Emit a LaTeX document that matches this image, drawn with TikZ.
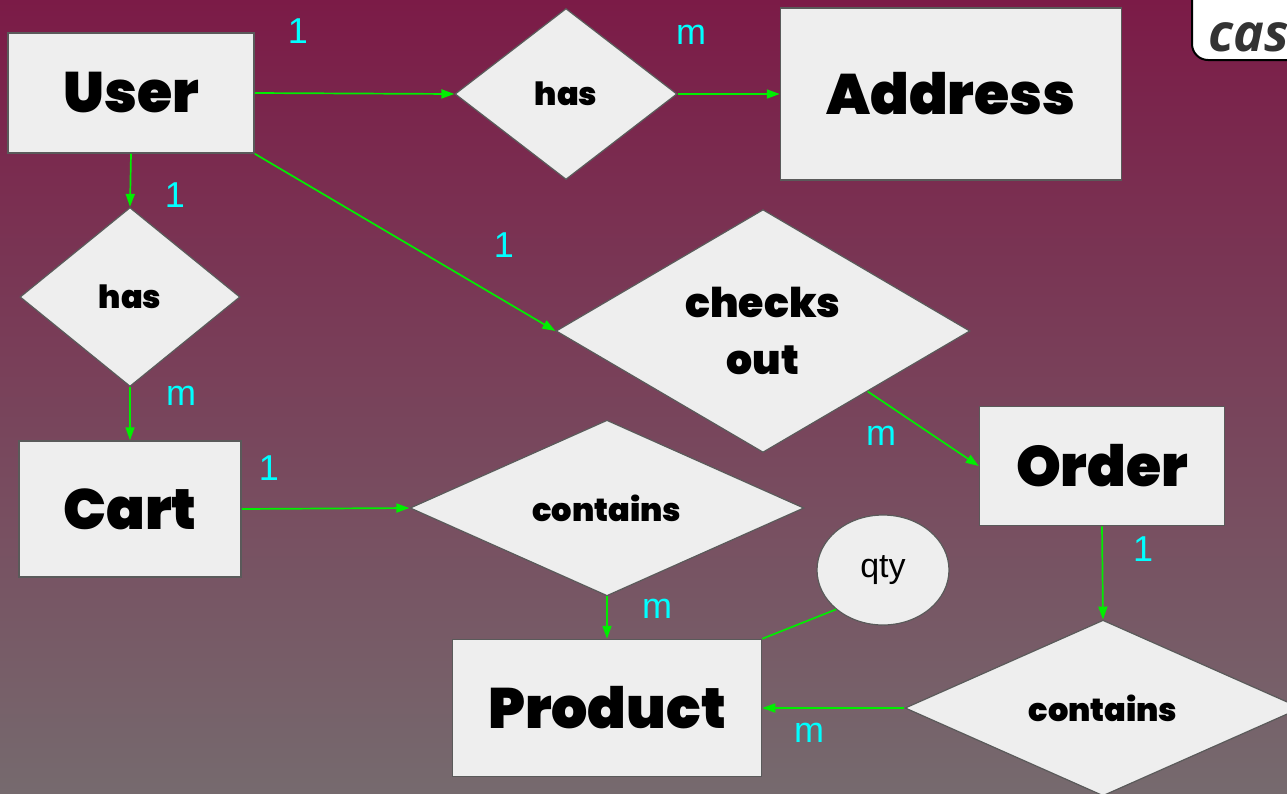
\documentclass[tikz,border=0pt]{standalone}
\usepackage{fontspec}
\setmainfont{Poppins}[BoldFont={Poppins Black}]
\newfontfamily\cardfont{Liberation Sans}
\newfontfamily\logofont{Open Sans}
\usetikzlibrary{arrows.meta,positioning,shapes.geometric}
\definecolor{ErBgTop}{HTML}{7B1B47}
\definecolor{ErBgBottom}{HTML}{766A6E}
\definecolor{ErFill}{HTML}{EEEEEE}
\definecolor{ErEdge}{HTML}{5A5A5A}
\definecolor{ErGreen}{HTML}{00EE00}
\definecolor{ErCyan}{HTML}{00FFFF}
\definecolor{ErLogo}{HTML}{333333}

\begin{document}
\begin{tikzpicture}[
  x=1pt,y=-1pt,
  entity/.style={draw=ErEdge,line width=1.5pt,fill=ErFill,inner sep=0pt,font=\fontsize{57}{62}\selectfont\bfseries},
  relation/.style={diamond,draw=ErEdge,line width=1.2pt,fill=ErFill,inner sep=0pt,align=center,font=\fontsize{32}{34}\selectfont\bfseries},
  attrib/.style={ellipse,draw=ErEdge,line width=1.2pt,fill=ErFill,inner sep=0pt,font=\cardfont\fontsize{34}{36}\selectfont},
  card/.style={text=ErCyan,inner sep=0pt,font=\cardfont\fontsize{36}{38}\selectfont},
  arrow/.style={-{Triangle[length=13pt,width=9pt]},line width=1.7pt,draw=ErGreen},
  link/.style={line width=1.7pt,draw=ErGreen}
]
\useasboundingbox (0,0) rectangle (1287,793);
\clip (0,0) rectangle (1287,793);
\shade[top color=ErBgTop,bottom color=ErBgBottom] (0,0) rectangle (1287,793);

% entities
\node[entity,minimum width=246pt,minimum height=120pt] (user) at (131,93) {\raisebox{-4pt}{User}};
\node[entity,minimum width=341pt,minimum height=172pt] (address) at (951,94) {\raisebox{-3pt}{Address}};
\node[entity,minimum width=222pt,minimum height=136pt] (cart) at (130,509) {\raisebox{-3pt}{Cart}};
\node[entity,minimum width=245pt,minimum height=119pt] (order) at (1102,466) {\raisebox{-3pt}{Order}};
\node[entity,minimum width=309pt,minimum height=137pt] (product) at (607,708) {\raisebox{-3pt}{Product}};

% relations
\node[relation,minimum width=222pt,minimum height=171pt] (hasaddr) at (566,94) {has};
\node[relation,minimum width=220pt,minimum height=179pt] (hascart) at (130,297) {has};
\node[relation,minimum width=414pt,minimum height=232pt,font=\fontsize{41}{57}\selectfont\bfseries] (checkout) at (763,331) {checks\\out};
\node[relation,minimum width=394pt,minimum height=171pt] (cartcont) at (607,508) {contains};
\node[relation,minimum width=396pt,minimum height=170pt] (ordercont) at (1103,708) {contains};
\node[attrib,minimum width=132pt,minimum height=110pt] (qty) at (883,570) {qty};

% connectors
\draw[arrow] (user.east) -- (hasaddr.west);
\draw[arrow] (hasaddr.east) -- (address.west);
\draw[arrow] (user.south) -- (hascart.north);
\draw[arrow] (hascart.south) -- (cart.north);
\draw[arrow] (user.south east) -- (checkout.west);
\draw[arrow] (checkout.-30) -- (order.west);
\draw[arrow] (cart.east) -- (cartcont.west);
\draw[arrow] (cartcont.south) -- (product.north);
\draw[arrow] (order.south) -- (ordercont.north);
\draw[arrow] (ordercont.west) -- (product.east);
\draw[link] (qty.220) -- (product.north east);

% cardinalities
\node[card] (cUserA) at (298,31) {1};
\node[card] (cAddr) at (691,35) {m};
\node[card] (cUserC) at (175,195) {1};
\node[card] (cUserO) at (504,245) {1};
\node[card] (cCart) at (181,396) {m};
\node[card] (cCartP) at (269,468) {1};
\node[card] (cOrder) at (881,436) {m};
\node[card] (cOrderP) at (1143,549) {1};
\node[card] (cProdC) at (657,609) {m};
\node[card] (cProdO) at (809,733) {m};

% logo corner
\draw[black,line width=2pt,fill=white,rounded corners=16pt] (1192,-20) rectangle (1330,60);
\node[anchor=west,inner sep=0pt,text=ErLogo,font=\logofont\itshape\bfseries\fontsize{52}{52}\selectfont] (logo) at (1208,37) {cas};
\end{tikzpicture}
\end{document}
